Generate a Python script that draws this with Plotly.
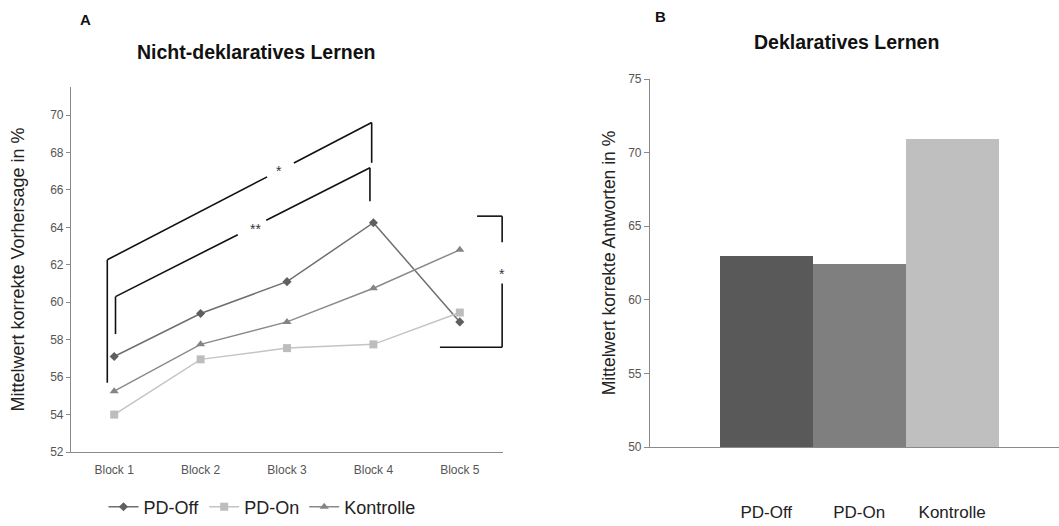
import plotly.graph_objects as go

blocks = ["Block 1", "Block 2", "Block 3", "Block 4", "Block 5"]
pd_off = [57.1, 59.4, 61.1, 64.25, 58.95]
pd_on = [54.0, 56.95, 57.55, 57.75, 59.45]
kontrolle = [55.25, 57.75, 58.95, 60.75, 62.8]

groups = ["PD-Off", "PD-On", "Kontrolle"]
deklarativ = [62.95, 62.4, 70.95]

FONT = "Liberation Sans, Arial, sans-serif"

fig = go.Figure()
fig.add_trace(go.Scatter(x=blocks, y=pd_off, name="PD-Off", mode="lines+markers",
                         line=dict(color="#6f6f6f", width=1.5),
                         marker=dict(symbol="diamond", size=7, color="#5f5f5f"),
                         xaxis="x", yaxis="y"))
fig.add_trace(go.Scatter(x=blocks, y=pd_on, name="PD-On", mode="lines+markers",
                         line=dict(color="#c4c4c4", width=1.5),
                         marker=dict(symbol="square", size=8, color="#bdbdbd"),
                         xaxis="x", yaxis="y"))
fig.add_trace(go.Scatter(x=blocks, y=kontrolle, name="Kontrolle", mode="lines+markers",
                         line=dict(color="#8a8a8a", width=1.5),
                         marker=dict(symbol="triangle-up", size=8, color="#858585"),
                         xaxis="x", yaxis="y"))
fig.add_trace(go.Bar(x=groups, y=deklarativ, marker=dict(color=["#595959", "#7f7f7f", "#bfbfbf"], line=dict(width=0)),
                     showlegend=False, xaxis="x2", yaxis="y2"))

shapes = []
def seg(x0, y0, x1, y1):
    shapes.append(dict(type="line", xref="x", yref="y", x0=x0, y0=y0, x1=x1, y1=y1,
                       line=dict(color="#111111", width=1.6)))

# outer bracket (*)
seg(-0.08, 55.7, -0.08, 62.27)
seg(-0.08, 62.27, 1.77, 66.7)
seg(2.08, 67.44, 2.98, 69.6)
seg(2.98, 69.6, 2.98, 67.45)
# inner bracket (**)
seg(0.015, 58.3, 0.015, 60.3)
seg(0.015, 60.3, 1.43, 63.61)
seg(1.76, 64.38, 2.96, 67.19)
seg(2.96, 67.19, 2.96, 65.4)
# right bracket (*)
seg(4.2, 64.6, 4.49, 64.6)
seg(4.49, 64.6, 4.49, 63.2)
seg(4.49, 61.0, 4.49, 57.6)
seg(3.77, 57.6, 4.49, 57.6)

annotations = [
    dict(text="*", x=1.91, y=67.0, xref="x", yref="y", showarrow=False, font=dict(size=14, color="#333")),
    dict(text="**", x=1.64, y=63.9, xref="x", yref="y", showarrow=False, font=dict(size=14, color="#333")),
    dict(text="*", x=4.49, y=61.5, xref="x", yref="y", showarrow=False, font=dict(size=14, color="#333")),
    dict(text="<b>A</b>", x=85, y=19, showarrow=False, font=dict(size=15, color="#111")),
    dict(text="<b>Nicht-deklaratives Lernen</b>", x=256, y=52, showarrow=False,
         font=dict(size=19.5, color="#111")),
    dict(text="<b>B</b>", x=660, y=16, showarrow=False, font=dict(size=15, color="#111")),
    dict(text="<b>Deklaratives Lernen</b>", x=846, y=42, showarrow=False,
         font=dict(size=19.5, color="#111")),
]
W, H = 1059, 526
for a in annotations:
    if a.get("xref") == "x":
        continue
    a["xref"] = "paper"; a["yref"] = "paper"
    a["x"] = a["x"] / W
    a["y"] = 1 - a["y"] / H
    a["xanchor"] = "center"; a["yanchor"] = "middle"

LINE = "#8a8a8a"
fig.update_layout(
    width=W, height=H, autosize=False,
    margin=dict(l=0, r=0, t=0, b=0, autoexpand=False),
    paper_bgcolor="white", plot_bgcolor="white",
    font=dict(family=FONT, color="#333"),
    bargap=0,
    xaxis=dict(domain=[71 / W, 503 / W], range=[-0.5, 4.5], showline=True, ticks="", automargin=False,
               tickfont=dict(size=12, color="#555"), ticklabelstandoff=6,
               showgrid=False, zeroline=False, linecolor=LINE, linewidth=1.2),
    yaxis=dict(domain=[(H - 452) / H, (H - 87) / H], range=[52, 71.5],
               tickvals=[52, 54, 56, 58, 60, 62, 64, 66, 68, 70], automargin=False,
               showline=True, ticks="outside", ticklen=4, tickcolor=LINE,
               showgrid=False, zeroline=False, linecolor=LINE, linewidth=1.2,
               tickfont=dict(size=12, color="#555"),
               title=dict(text="Mittelwert korrekte Vorhersage in %", font=dict(size=18, color="#222"), standoff=20)),
    xaxis2=dict(domain=[650 / W, 1.0], range=[-1.25, 3.15], showline=True, ticks="", automargin=False,
                tickfont=dict(size=17, color="#222"), ticklabelstandoff=49,
                showgrid=False, zeroline=False, linecolor=LINE, linewidth=1.2, anchor="y2"),
    yaxis2=dict(domain=[(H - 447) / H, (H - 79) / H], range=[50, 75], tickvals=[50, 55, 60, 65, 70, 75],
                showline=True, ticks="outside", ticklen=5, tickcolor=LINE, anchor="x2", automargin=False,
                showgrid=False, zeroline=False, linecolor=LINE, linewidth=1.2,
                tickfont=dict(size=12, color="#555"),
                title=dict(text="Mittelwert korrekte Antworten in %", font=dict(size=17.5, color="#222"), standoff=8)),
    legend=dict(orientation="h", x=262 / W, xanchor="center", y=(H - 507) / H, yanchor="middle",
                font=dict(size=18, color="#222"), itemwidth=30, bgcolor="rgba(0,0,0,0)"),
    shapes=shapes,
    annotations=annotations,
)

fig.write_html("out.html", config={"displayModeBar": False},
               post_script="document.body.style.margin='0';document.body.style.padding='0';document.body.style.overflow='hidden';")
